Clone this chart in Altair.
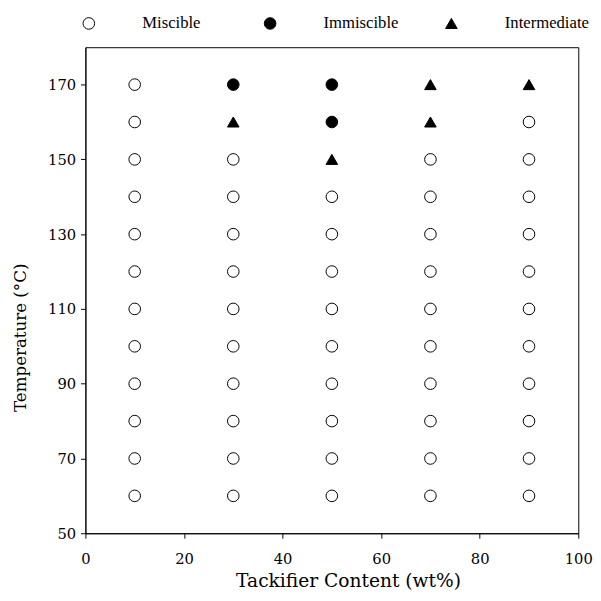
import altair as alt
import pandas as pd

# ---- data ----
temperatures = [60, 70, 80, 90, 100, 110, 120, 130, 140, 150, 160, 170]
contents = [10, 30, 50, 70, 90]

# phase observed at each temperature (bottom to top) for each tackifier content
phase_10 = ["Miscible", "Miscible", "Miscible", "Miscible", "Miscible", "Miscible",
            "Miscible", "Miscible", "Miscible", "Miscible", "Miscible", "Miscible"]
phase_30 = ["Miscible", "Miscible", "Miscible", "Miscible", "Miscible", "Miscible",
            "Miscible", "Miscible", "Miscible", "Miscible", "Intermediate", "Immiscible"]
phase_50 = ["Miscible", "Miscible", "Miscible", "Miscible", "Miscible", "Miscible",
            "Miscible", "Miscible", "Miscible", "Intermediate", "Immiscible", "Immiscible"]
phase_70 = ["Miscible", "Miscible", "Miscible", "Miscible", "Miscible", "Miscible",
            "Miscible", "Miscible", "Miscible", "Miscible", "Intermediate", "Intermediate"]
phase_90 = ["Miscible", "Miscible", "Miscible", "Miscible", "Miscible", "Miscible",
            "Miscible", "Miscible", "Miscible", "Miscible", "Miscible", "Intermediate"]

phases = ["Miscible", "Immiscible", "Intermediate"]
x_ticks = [0, 20, 40, 60, 80, 100]
y_ticks = [50, 70, 90, 110, 130, 150, 170]

columns = [phase_10, phase_30, phase_50, phase_70, phase_90]
rows = []
for c, col in zip(contents, columns):
    for t, p in zip(temperatures, col):
        rows.append({"content": c, "temp": t, "phase": p})
df = pd.DataFrame(rows)

legend = alt.Legend(
    title=None, orient="none", legendX=-5, legendY=-33,
    direction="horizontal", columns=3, gridAlign="all",
    labelOffset=46, columnPadding=36, padding=0,
    symbolSize=140, symbolStrokeWidth=1,
    symbolOpacity=1, labelFont="Liberation Serif", labelFontSize=17,
    labelColor="black", labelLimit=200,
)

chart = alt.Chart(df).mark_point(
    filled=True, strokeWidth=1, size=140, opacity=1
).encode(
    x=alt.X("content:Q",
            scale=alt.Scale(domain=[0, 100], nice=False, zero=False),
            axis=alt.Axis(values=x_ticks, title="Tackifier Content (wt%)",
                          labelFlush=False, labelPadding=14, titlePadding=5,
                          titleFont="DejaVu Serif", titleFontSize=19, titleX=268)),
    y=alt.Y("temp:Q",
            scale=alt.Scale(domain=[50, 180], nice=False, zero=False),
            axis=alt.Axis(values=y_ticks, title="Temperature (°C)",
                          labelFlush=False, labelPadding=5, titlePadding=19,
                          titleFont="DejaVu Serif", titleFontSize=17, titleY=296)),
    fill=alt.Fill("phase:N",
                  scale=alt.Scale(domain=phases, range=["white", "black", "black"]),
                  legend=legend),
    stroke=alt.Stroke("phase:N",
                      scale=alt.Scale(domain=phases, range=["black", "black", "black"]),
                      legend=legend),
    shape=alt.Shape("phase:N",
                    scale=alt.Scale(domain=phases, range=["circle", "circle", "triangle-up"]),
                    legend=legend),
).properties(
    width=503, height=496,
    padding={"left": 3, "top": 1, "right": 0, "bottom": 0},
).configure_view(
    stroke="black", strokeWidth=1
).configure_axis(
    grid=False, domainColor="black", domainWidth=1, tickColor="black", tickSize=5,
    labelColor="black", titleColor="black", labelFont="DejaVu Serif",
    labelFontSize=15, titleFontWeight="normal"
)

chart.save("out.html", embed_options={"renderer": "svg", "actions": False})
